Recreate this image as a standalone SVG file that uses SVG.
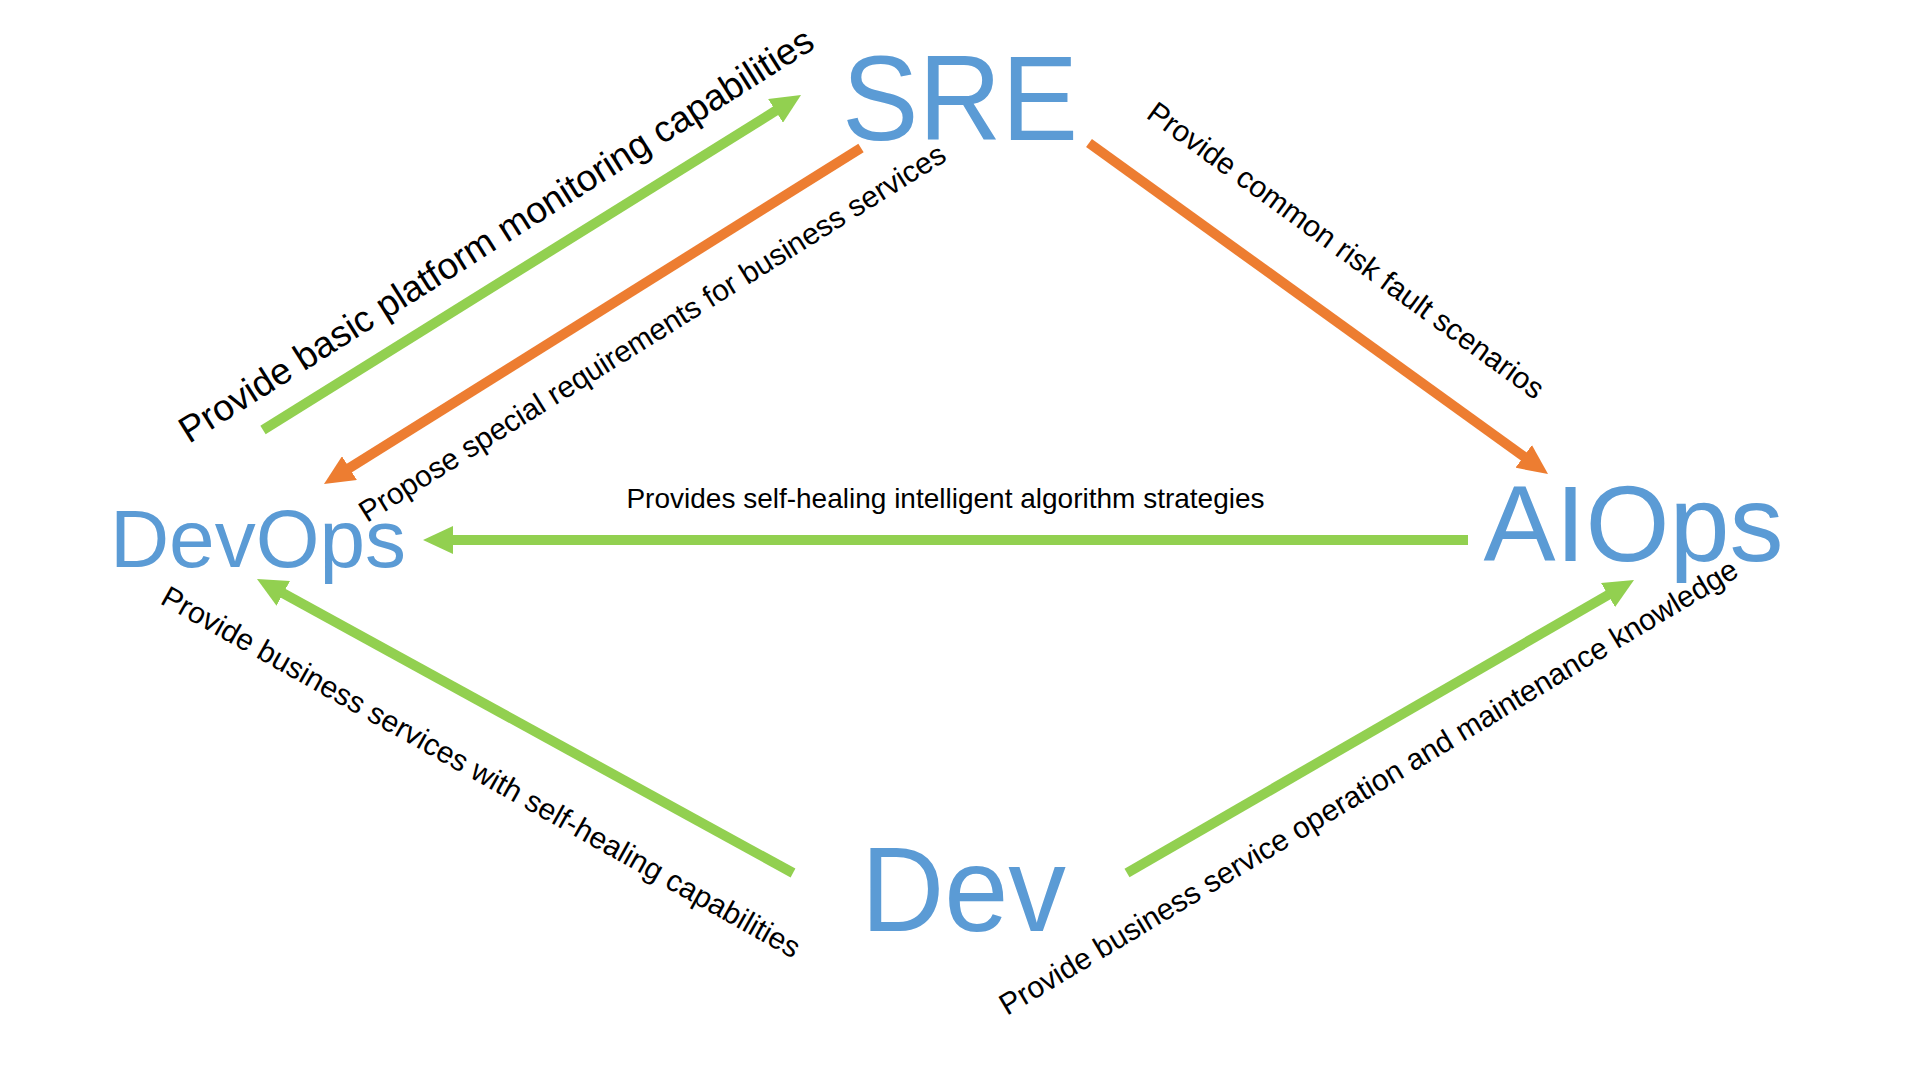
<svg xmlns="http://www.w3.org/2000/svg" width="1920" height="1080" viewBox="0 0 1920 1080">
  <style>
    .node { font-family: "Liberation Sans", Arial, Helvetica, sans-serif; fill: #5B9BD5; }
    .lbl { font-family: "Liberation Sans", Arial, Helvetica, sans-serif; fill: #000000; }
    .g { stroke: #92D050; stroke-width: 10; fill: none; stroke-linecap: butt; }
    .o { stroke: #ED7D31; stroke-width: 10; fill: none; stroke-linecap: butt; }
  </style>
  <defs>
    <marker id="ag" markerUnits="userSpaceOnUse" markerWidth="30" markerHeight="28" viewBox="0 0 30 28" refX="1" refY="14" orient="auto">
      <path d="M0,0 L30,14 L0,28 z" fill="#92D050"/>
    </marker>
    <marker id="ao" markerUnits="userSpaceOnUse" markerWidth="30" markerHeight="28" viewBox="0 0 30 28" refX="1" refY="14" orient="auto">
      <path d="M0,0 L30,14 L0,28 z" fill="#ED7D31"/>
    </marker>
  </defs>
  <rect width="1920" height="1080" fill="#FFFFFF"/>

  <g id="connectors">
    <line class="g" x1="263" y1="430" x2="776.4" y2="110.3" marker-end="url(#ag)"/>
    <line class="o" x1="861" y1="148" x2="348.6" y2="468.6" marker-end="url(#ao)"/>
    <line class="o" x1="1089" y1="143" x2="1524.5" y2="457" marker-end="url(#ao)"/>
    <line class="g" x1="1468" y1="540" x2="452" y2="540" marker-end="url(#ag)"/>
    <line class="g" x1="793" y1="873" x2="282.4" y2="592.9" marker-end="url(#ag)"/>
    <line class="g" x1="1127" y1="873" x2="1608.9" y2="594.5" marker-end="url(#ag)"/>
  </g>

  <g id="labels">
    <text class="lbl" font-size="37" transform="translate(189,444) rotate(-32.3)">Provide basic platform monitoring capabilities</text>
    <text class="lbl" font-size="30" transform="translate(367,523) rotate(-32)">Propose special requirements for business services</text>
    <text class="lbl" font-size="30" transform="translate(1145,117) rotate(36)">Provide common risk fault scenarios</text>
    <text class="lbl" font-size="28" x="945.5" y="508" text-anchor="middle">Provides self-healing intelligent algorithm strategies</text>
    <text class="lbl" font-size="30" transform="translate(159,603) rotate(29.3)">Provide business services with self-healing capabilities</text>
    <text class="lbl" font-size="30" transform="translate(1007,1016) rotate(-31)">Provide business service operation and maintenance knowledge</text>
  </g>

  <g id="node-sre">
    <text class="node" x="960" y="140" font-size="120" text-anchor="middle" textLength="236" lengthAdjust="spacingAndGlyphs">SRE</text>
  </g>
  <g id="node-devops">
    <text class="node" x="258" y="567" font-size="82" text-anchor="middle">DevOps</text>
  </g>
  <g id="node-aiops">
    <text class="node" x="1633.5" y="561" font-size="108" text-anchor="middle">AIOps</text>
  </g>
  <g id="node-dev">
    <text class="node" x="963.5" y="931" font-size="120" text-anchor="middle" textLength="205" lengthAdjust="spacingAndGlyphs">Dev</text>
  </g>
</svg>
